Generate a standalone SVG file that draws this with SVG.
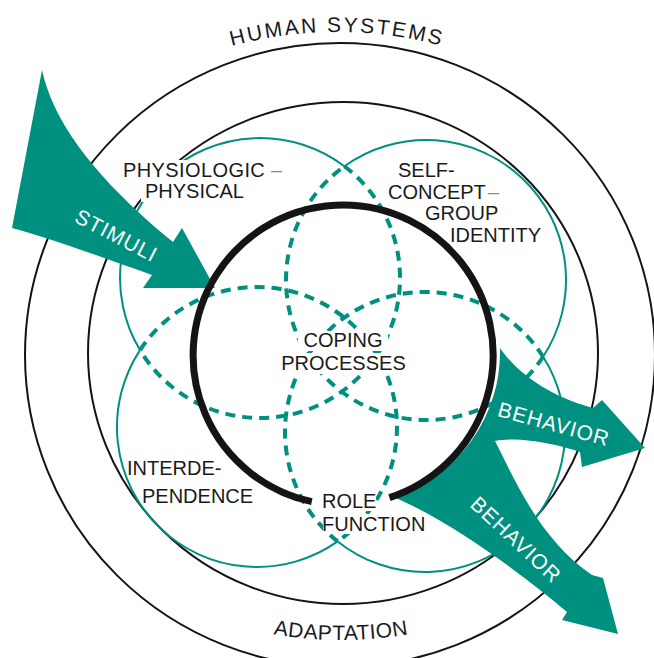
<svg xmlns="http://www.w3.org/2000/svg" width="654" height="658" viewBox="0 0 654 658">
<defs>
<style>
.blk{fill:none;stroke:#141414;stroke-width:2}
.tl{fill:none;stroke:#00907f;stroke-width:2}
.td{fill:none;stroke:#00907f;stroke-width:4;stroke-dasharray:10 7}
.thick{fill:none;stroke:#141414;stroke-width:7}
.arrow{fill:#00907f}
.lbl{font-family:"Liberation Sans",Arial,Helvetica,sans-serif;font-size:20px;fill:#1a1a1a}
.al{font-family:"Liberation Sans",Arial,Helvetica,sans-serif;font-size:21px;fill:#ffffff;letter-spacing:1px}
.dash{fill:#8a8a8a}
.bg{fill:#ffffff}
</style>
<path id="topArc" d="M 187 61.2 A 400 400 0 0 1 487 61.2"/>
<path id="botArc" d="M 241 627.3 A 400 400 0 0 0 441 627.3"/>
</defs>
<rect width="654" height="658" fill="#ffffff"/>

<g id="rings">
<ellipse class="blk" cx="340" cy="355" rx="315" ry="312"/>
<ellipse class="blk" cx="343" cy="353" rx="255" ry="251"/>
</g>

<g id="modes">
<g id="physiologic-circle">
<path class="tl" d="M 140.0 350.1 A 140 140 0 0 1 344.36 166.27"/>
<path class="td" d="M 344.36 166.27 A 140 140 0 1 1 140.0 350.1"/>
</g>
<g id="self-concept-circle">
<path class="tl" d="M 344.36 166.27 A 140 140 0 0 1 543.08 356.77"/>
<path class="td" d="M 543.08 356.77 A 140 140 0 1 1 344.36 166.27"/>
</g>
<g id="role-circle">
<path class="tl" d="M 543.08 356.77 A 140 140 0 0 1 337.67 541.42"/>
<path class="td" d="M 337.67 541.42 A 140 140 0 1 1 543.08 356.77"/>
</g>
<g id="interdependence-circle">
<path class="tl" d="M 337.67 541.42 A 140 140 0 0 1 140.0 350.1"/>
<path class="td" d="M 140.0 350.1 A 140 140 0 1 1 337.67 541.42"/>
</g>
</g>

<g id="label-backgrounds">
<rect class="bg" x="119" y="160" width="168" height="22"/>
<rect class="bg" x="141" y="182" width="102" height="20"/>
<rect class="bg" x="298" y="331" width="90" height="20"/>
<rect class="bg" x="276" y="353" width="136" height="21"/>
<rect class="bg" x="320" y="492" width="56" height="19"/>
<rect class="bg" x="323" y="514" width="108" height="20"/>
</g>

<g id="connectors">
<path id="stimuli-arrow" class="arrow" d="M 42 70 C 52 115, 85 170, 173 242 L 182 228 L 215 288 L 143 288 L 152 275 C 110 260, 50 238, 12 228 Z"/>
<path id="behavior-arrows" class="arrow" d="M 500 348 C 515 370, 545 395, 593 408 L 602 400 L 645 448 L 582 467 L 580 452 C 560 445, 520 436, 495 441 C 515 480, 540 540, 592 575 L 603 578 L 618 634 L 562 620 L 567 612 C 530 580, 450 520, 393 497 A 152 152 0 0 0 500 348 Z"/>
</g>

<g id="coping">
<path class="thick" d="M 311.8 501.7 A 150 150 0 1 1 389.4 497.7"/>
<text class="lbl" x="343" y="347" text-anchor="middle">COPING</text>
<text class="lbl" x="343.5" y="370" text-anchor="middle">PROCESSES</text>
</g>

<g id="labels">
<text class="al" x="113" y="242" text-anchor="middle" transform="rotate(27.5 113 242)">STIMULI</text>
<text class="al" x="552" y="431" text-anchor="middle" transform="rotate(15.5 552 431)">BEHAVIOR</text>
<text class="al" x="511" y="545" text-anchor="middle" transform="rotate(43 511 545)">BEHAVIOR</text>

<text class="lbl" style="font-size:21px;letter-spacing:2.3px"><textPath href="#topArc" startOffset="50%" text-anchor="middle">HUMAN SYSTEMS</textPath></text>
<text class="lbl" style="font-size:21px;letter-spacing:0.5px"><textPath href="#botArc" startOffset="50%" text-anchor="middle">ADAPTATION</textPath></text>
</g>

<g id="node-physiologic">
<text class="lbl" x="123" y="177" style="letter-spacing:0.4px">PHYSIOLOGIC<tspan class="dash" x="271">–</tspan></text>
<text class="lbl" x="145" y="198">PHYSICAL</text>
</g>
<g id="node-self-concept">
<text class="lbl" x="398" y="177">SELF-</text>
<text class="lbl" x="388" y="199">CONCEPT<tspan class="dash" x="488">–</tspan></text>
<text class="lbl" x="425" y="220">GROUP</text>
<text class="lbl" x="450" y="242">IDENTITY</text>
</g>
<g id="node-interdependence">
<text class="lbl" x="127" y="475">INTERDE-</text>
<text class="lbl" x="142" y="503">PENDENCE</text>
</g>
<g id="node-role">
<text class="lbl" x="322" y="508">ROLE</text>
<text class="lbl" x="322" y="531">FUNCTION</text>
</g>
</svg>
